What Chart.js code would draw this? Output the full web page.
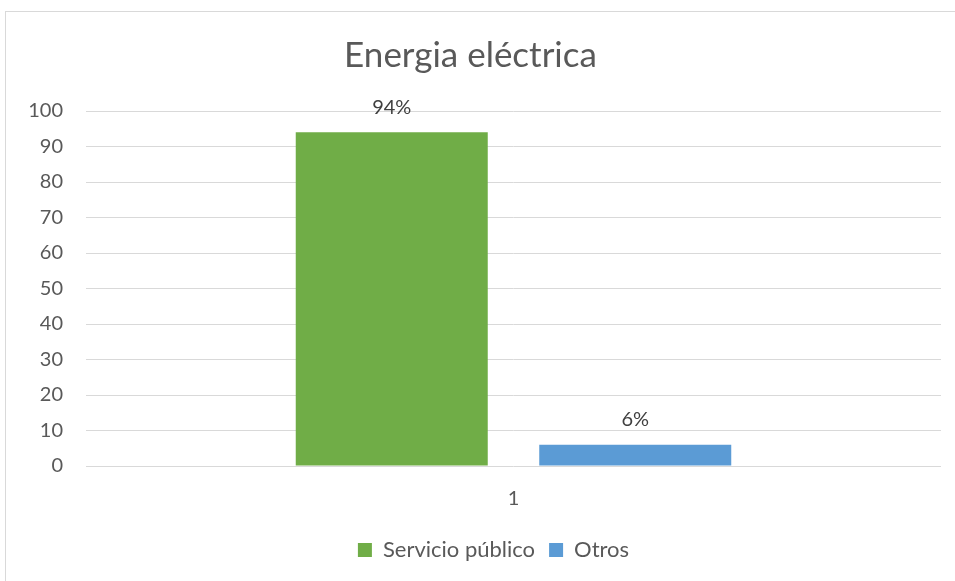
<!DOCTYPE html>
<html>
<head>
<meta charset="utf-8">
<script src="https://cdn.jsdelivr.net/npm/chart.js@4/dist/chart.umd.min.js"></script>
<style>
html,body{margin:0;padding:0;background:#fff;}
#wrap{width:955px;height:581px;position:relative;}
</style>
</head>
<body>
<div id="wrap"><canvas id="c" width="955" height="581"></canvas></div>
<script>
const categories = ["1"];
const seriesNames = ["Servicio público", "Otros"];
const servicioPublico = [94];
const otros = [6];
const dataLabels = [["94%"], ["6%"]];
const titleText = "Energia eléctrica";

const FONT = "Lato, 'Open Sans', sans-serif";

const borderPlugin = {
  id: 'frame',
  beforeDraw(chart) {
    const ctx = chart.ctx;
    ctx.save();
    ctx.fillStyle = '#fff';
    ctx.fillRect(0, 0, chart.width, chart.height);
    ctx.strokeStyle = '#d9d9d9';
    ctx.lineWidth = 1;
    ctx.strokeRect(5.5, 11.5, 1200, 1200);
    ctx.restore();
  }
};

const legendShift = {
  id: 'legendShift',
  afterLayout(chart) {
    if (chart.legend) {
      chart.legend.left += 23;
      chart.legend.right += 23;
    }
  }
};

const labelPlugin = {
  id: 'barLabels',
  afterDatasetsDraw(chart) {
    const ctx = chart.ctx;
    ctx.save();
    ctx.font = "20px " + FONT;
    ctx.fillStyle = '#404040';
    ctx.textAlign = 'center';
    ctx.textBaseline = 'middle';
    chart.data.datasets.forEach((ds, i) => {
      const meta = chart.getDatasetMeta(i);
      meta.data.forEach((bar, j) => {
        ctx.fillText(dataLabels[i][j], bar.x, bar.y - 25);
      });
    });
    ctx.restore();
  }
};

new Chart(document.getElementById('c'), {
  type: 'bar',
  data: {
    labels: categories,
    datasets: [
      { label: seriesNames[0], data: servicioPublico, backgroundColor: '#70ad47' },
      { label: seriesNames[1], data: otros, backgroundColor: '#5b9bd5' }
    ]
  },
  options: {
    responsive: false,
    animation: false,
    devicePixelRatio: 1,
    categoryPercentage: 0.5696,
    barPercentage: 0.7885,
    layout: { padding: { left: 0, right: 14, top: 0, bottom: 10 } },
    plugins: {
      title: {
        display: true,
        text: titleText,
        color: '#595959',
        font: { family: FONT, size: 35, weight: 'normal' },
        padding: { top: 35, bottom: 34 }
      },
      legend: {
        display: true,
        position: 'bottom',
        labels: {
          color: '#595959',
          font: { family: FONT, size: 22 },
          boxWidth: 14,
          boxHeight: 14,
          padding: 14
        }
      },
      tooltip: { enabled: false }
    },
    scales: {
      x: {
        grid: { display: false, drawTicks: false },
        border: { display: false },
        ticks: { color: '#595959', font: { family: FONT, size: 20 }, padding: 21 },
        afterFit(scale) { scale.height = 59; }
      },
      y: {
        min: 0,
        max: 100,
        grid: { color: '#d9d9d9', lineWidth: 1, drawTicks: false },
        border: { display: false },
        ticks: { stepSize: 10, color: '#595959', font: { family: FONT, size: 20 }, padding: 23 },
        afterFit(scale) { scale.width = 86; }
      }
    }
  },
  plugins: [borderPlugin, legendShift, labelPlugin]
});
</script>
</body>
</html>
